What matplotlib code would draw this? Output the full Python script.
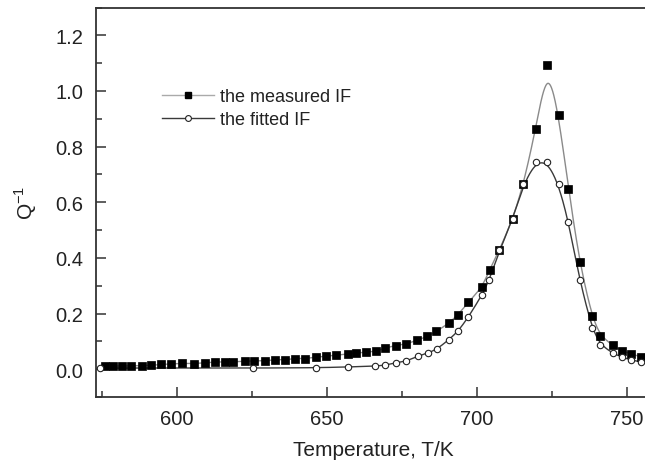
import numpy as np
import matplotlib
matplotlib.use("Agg")
import matplotlib.pyplot as plt
from matplotlib.ticker import MultipleLocator

# Measured internal friction (black squares)
meas_T = [575.9, 578.8, 581.8, 584.8, 588.5, 591.5, 594.8, 598.1, 601.8, 605.6,
          609.2, 612.6, 615.9, 618.7, 622.6, 625.6, 629.2, 632.6, 635.9, 639.2,
          642.6, 646.2, 649.8, 653.1, 657.0, 659.8, 663.1, 666.2, 669.2, 672.9,
          676.5, 680.1, 683.5, 686.5, 690.6, 693.7, 697.1, 701.7, 704.2, 707.5,
          711.9, 715.5, 719.6, 723.5, 727.2, 730.5, 734.2, 738.3, 741.1, 745.2,
          748.3, 751.3, 754.7]
meas_Q = [0.011, 0.011, 0.011, 0.012, 0.013, 0.014, 0.017, 0.019, 0.021, 0.020,
          0.023, 0.026, 0.026, 0.026, 0.029, 0.029, 0.031, 0.033, 0.034, 0.038,
          0.038, 0.043, 0.047, 0.050, 0.055, 0.058, 0.061, 0.064, 0.076, 0.085,
          0.091, 0.104, 0.118, 0.136, 0.165, 0.196, 0.240, 0.294, 0.358, 0.429,
          0.539, 0.665, 0.865, 1.095, 0.915, 0.648, 0.384, 0.190, 0.120, 0.086,
          0.065, 0.056, 0.044]

# Fitted internal friction (open circles)
fit_T = [574.2, 625.3, 646.2, 657.0, 665.9, 669.2, 672.9, 676.5, 680.3, 683.7,
         686.8, 690.6, 693.7, 697.1, 701.7, 704.1, 707.5, 711.9, 715.5, 719.6,
         723.5, 727.2, 730.5, 734.2, 738.3, 741.1, 745.2, 748.3, 751.3, 754.7]
fit_Q = [0.004, 0.004, 0.005, 0.008, 0.011, 0.014, 0.023, 0.029, 0.047, 0.058,
         0.073, 0.106, 0.136, 0.187, 0.267, 0.321, 0.427, 0.539, 0.665, 0.745,
         0.745, 0.664, 0.530, 0.321, 0.148, 0.088, 0.058, 0.043, 0.033, 0.026]

labels = ["the measured IF", "the fitted IF"]


def bspline(xs, ys, n=30):
    """Uniform cubic B-spline using the data points as control points (clamped ends)."""
    P = np.column_stack([xs, ys]).astype(float)
    P = np.vstack([P[0], P[0], P, P[-1], P[-1]])
    t = np.linspace(0, 1, n, endpoint=False)
    b0 = (1 - t) ** 3 / 6
    b1 = (3 * t ** 3 - 6 * t ** 2 + 4) / 6
    b2 = (-3 * t ** 3 + 3 * t ** 2 + 3 * t + 1) / 6
    b3 = t ** 3 / 6
    out = []
    for i in range(len(P) - 3):
        seg = (b0[:, None] * P[i] + b1[:, None] * P[i + 1]
               + b2[:, None] * P[i + 2] + b3[:, None] * P[i + 3])
        out.append(seg)
    out.append(P[-1][None, :])
    out = np.vstack(out)
    return out[:, 0], out[:, 1]


plt.rcParams['font.family'] = ['Liberation Sans', 'DejaVu Sans']
W, H = 645, 464
fig = plt.figure(figsize=(W / 100, H / 100), dpi=100)
left, right, top, bottom = 96, 651, 8.5, 398
ax = fig.add_axes([left / W, 1 - bottom / H, (right - left) / W, (bottom - top) / H])

mx, my = bspline(meas_T, meas_Q)
fx, fy = bspline(fit_T, fit_Q)

ax.plot(mx, my, color='#8a8a8a', lw=1.0, zorder=2)
ax.plot(fx, fy, color='#3a3a3a', lw=1.0, zorder=2)
ax.plot(meas_T, meas_Q, ls='none', marker='s', ms=5.2, mfc='black', mec='black',
        mew=0.5, zorder=3)
ax.plot(fit_T, fit_Q, ls='none', marker='o', ms=4.6, mfc='white', mec='#222222',
        mew=0.8, zorder=4)

# legend proxies
h1, = ax.plot([], [], color='#aaaaaa', lw=1.0, marker='s', ms=5, mfc='black', mec='black')
h2, = ax.plot([], [], color='#3a3a3a', lw=1.0, marker='o', ms=4.2, mfc='white', mec='#222222', mew=0.8)
leg = ax.legend([h1, h2], labels, loc='upper left',
                bbox_to_anchor=(161.7 / W, 1 - 89.5 / H), bbox_transform=fig.transFigure,
                frameon=False, fontsize=13, handlelength=2.9, handletextpad=0.35,
                borderpad=0, borderaxespad=0, labelspacing=0.3)
for t in leg.get_texts():
    t.set_color('#222222')

ax.set_xlim(573, 758)
ax.set_ylim(-0.1, 1.3)
ax.xaxis.set_major_locator(MultipleLocator(50))
ax.xaxis.set_minor_locator(MultipleLocator(25))
ax.yaxis.set_major_locator(MultipleLocator(0.2))
ax.yaxis.set_minor_locator(MultipleLocator(0.1))
ax.yaxis.set_major_formatter(matplotlib.ticker.FormatStrFormatter('%.1f'))

ax.tick_params(which='both', direction='in', top=False, right=False,
               colors='#333333', labelcolor='#222222', labelsize=14.5, width=1.1)
ax.tick_params(which='major', length=7, pad=9)
ax.tick_params(which='minor', length=4)
for s in ax.spines.values():
    s.set_color('#333333')
    s.set_linewidth(1.3)

ax.set_xlabel('Temperature, T/K', fontsize=15, color='#222222', labelpad=8)
ax.set_ylabel(r'Q$^{\mathregular{-1}}$', fontsize=15, color='#222222', labelpad=12)

fig.savefig('out.png', dpi=100)
